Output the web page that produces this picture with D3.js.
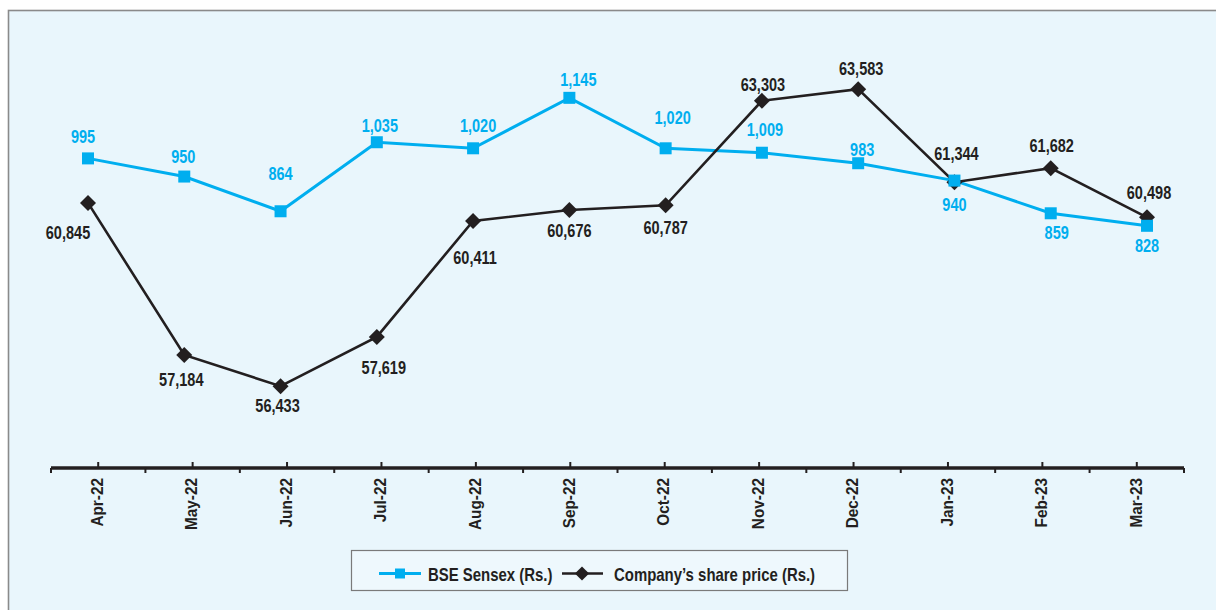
<!DOCTYPE html>
<html>
<head>
<meta charset="utf-8">
<script src="https://cdn.jsdelivr.net/npm/d3@7"></script>
<style>
  html, body { margin: 0; padding: 0; background: #ffffff; }
  svg text { font-family: "Liberation Sans", Arial, sans-serif; font-weight: bold; }
</style>
</head>
<body>
<script>
// months along the x axis
const months = ["Apr-22", "May-22", "Jun-22", "Jul-22", "Aug-22", "Sep-22",
                "Oct-22", "Nov-22", "Dec-22", "Jan-23", "Feb-23", "Mar-23"];

// blue series
const sensex = [995, 950, 864, 1035, 1020, 1145, 1020, 1009, 983, 940, 859, 828];

// black series
const sharePrice = [60845, 57184, 56433, 57619, 60411, 60676, 60787, 63303, 63583, 61344, 61682, 60498];

const seriesNames = ["BSE Sensex (Rs.)", "Company\u2019s share price (Rs.)"];

// where each value label sits relative to its point [dx, dy]
const sensexLabelPos = [[-5, -15], [-1, -14], [0, -31], [3, -10], [5, -16], [9, -12],
                        [7, -24], [3, -17], [4, -7], [0, 30], [6, 26], [0, 26]];
const shareLabelPos = [[-20, 36], [-3, 31], [-3, 26], [7, 37], [2, 43], [0, 27],
                       [0, 29], [1, -10], [3, -14], [2, -22], [1, -16], [2, -18]];

const width = 1216, height = 610;
const blue = "#00aeef", dark = "#231f20";
// the original type is a condensed bold face, so squeeze Liberation Sans
const narrow = 0.83;

const svg = d3.select("body")
    .append("svg")
    .attr("width", width)
    .attr("height", height);

// panel
svg.append("rect")
    .attr("x", 8.5).attr("y", 10.5)
    .attr("width", 1220).attr("height", 620)
    .attr("fill", "#e9f6fc")
    .attr("stroke", "#8a8a8a")
    .attr("stroke-width", 1.6);

const plotTop = 28, axisY = 468;

// category axis
const xBand = d3.scaleBand().domain(months).range([51, 1184]);
// the lines sit on a slightly wider spread than the ticks
const xPoint = d3.scalePoint().domain(months).range([88, 1147]);

const ySensex = d3.scaleLinear().domain([228, 1318]).range([axisY, plotTop]);
const yShare = d3.scaleLinear().domain([54463, 65056]).range([axisY, plotTop]);

const axis = svg.append("g");
axis.append("line")
    .attr("x1", xBand.range()[0]).attr("x2", xBand.range()[1])
    .attr("y1", axisY).attr("y2", axisY)
    .attr("stroke", dark).attr("stroke-width", 3.5);

// boundary ticks point down
const bounds = months.map(m => xBand(m)).concat([xBand.range()[1]]);
axis.selectAll("line.bound")
    .data(bounds)
    .join("line")
    .attr("class", "bound")
    .attr("x1", d => d).attr("x2", d => d)
    .attr("y1", axisY).attr("y2", axisY + 5)
    .attr("stroke", dark).attr("stroke-width", 2);

// centre ticks point up
axis.selectAll("line.mid")
    .data(months)
    .join("line")
    .attr("class", "mid")
    .attr("x1", d => xBand(d) + xBand.bandwidth() / 2)
    .attr("x2", d => xBand(d) + xBand.bandwidth() / 2)
    .attr("y1", axisY).attr("y2", axisY - 6)
    .attr("stroke", dark).attr("stroke-width", 2);

axis.selectAll("text")
    .data(months)
    .join("text")
    .attr("transform", d => `translate(${xBand(d) + xBand.bandwidth() / 2 - 1},${axisY + 10}) rotate(-90) scale(0.93,1)`)
    .attr("text-anchor", "end")
    .attr("dy", "0.35em")
    .attr("fill", dark)
    .style("font-size", "16.5px")
    .text(d => d);

const sensexLine = d3.line()
    .x((d, i) => xPoint(months[i]))
    .y(d => ySensex(d));
const shareLine = d3.line()
    .x((d, i) => xPoint(months[i]))
    .y(d => yShare(d));

svg.append("path")
    .datum(sensex)
    .attr("d", sensexLine)
    .attr("fill", "none")
    .attr("stroke", blue)
    .attr("stroke-width", 3);

svg.append("path")
    .datum(sharePrice)
    .attr("d", shareLine)
    .attr("fill", "none")
    .attr("stroke", dark)
    .attr("stroke-width", 2.6);

const diamond = d3.symbol().type(d3.symbolSquare).size(128);

svg.selectAll("path.diamond")
    .data(sharePrice)
    .join("path")
    .attr("class", "diamond")
    .attr("d", diamond)
    .attr("transform", (d, i) => `translate(${xPoint(months[i])},${yShare(d)}) rotate(45)`)
    .attr("fill", dark);

svg.selectAll("rect.square")
    .data(sensex)
    .join("rect")
    .attr("class", "square")
    .attr("x", (d, i) => xPoint(months[i]) - 6)
    .attr("y", d => ySensex(d) - 6)
    .attr("width", 12).attr("height", 12)
    .attr("fill", blue);

// value labels
svg.selectAll("text.sensex")
    .data(sensex)
    .join("text")
    .attr("class", "sensex")
    .attr("transform", (d, i) =>
        `translate(${xPoint(months[i]) + sensexLabelPos[i][0]},${ySensex(d) + sensexLabelPos[i][1]}) scale(${narrow},1)`)
    .attr("text-anchor", "middle")
    .attr("fill", blue)
    .style("font-size", "17.5px")
    .text(d => d3.format(",")(d));

svg.selectAll("text.share")
    .data(sharePrice)
    .join("text")
    .attr("class", "share")
    .attr("transform", (d, i) =>
        `translate(${xPoint(months[i]) + shareLabelPos[i][0]},${yShare(d) + shareLabelPos[i][1]}) scale(${narrow},1)`)
    .attr("text-anchor", "middle")
    .attr("fill", dark)
    .style("font-size", "17.5px")
    .text(d => d3.format(",")(d));

// legend
const legend = svg.append("g");
legend.append("rect")
    .attr("x", 351.5).attr("y", 550.5)
    .attr("width", 496).attr("height", 40)
    .attr("fill", "#eef8fd")
    .attr("stroke", "#7a7a7a")
    .attr("stroke-width", 1.2);

const legY = 573.5;
legend.append("line")
    .attr("x1", 379).attr("x2", 421).attr("y1", legY).attr("y2", legY)
    .attr("stroke", blue).attr("stroke-width", 3);
legend.append("rect")
    .attr("x", 395).attr("y", legY - 5).attr("width", 10).attr("height", 10)
    .attr("fill", blue);
legend.append("text")
    .attr("transform", `translate(428,${legY + 7}) scale(${narrow},1)`)
    .attr("fill", dark)
    .style("font-size", "18px")
    .text(seriesNames[0]);

legend.append("line")
    .attr("x1", 562).attr("x2", 603).attr("y1", legY).attr("y2", legY)
    .attr("stroke", dark).attr("stroke-width", 2.6);
legend.append("path")
    .attr("d", d3.symbol().type(d3.symbolSquare).size(100))
    .attr("transform", `translate(582,${legY}) rotate(45)`)
    .attr("fill", dark);
legend.append("text")
    .attr("transform", `translate(614,${legY + 7}) scale(${narrow},1)`)
    .attr("fill", dark)
    .style("font-size", "18px")
    .text(seriesNames[1]);
</script>
</body>
</html>
